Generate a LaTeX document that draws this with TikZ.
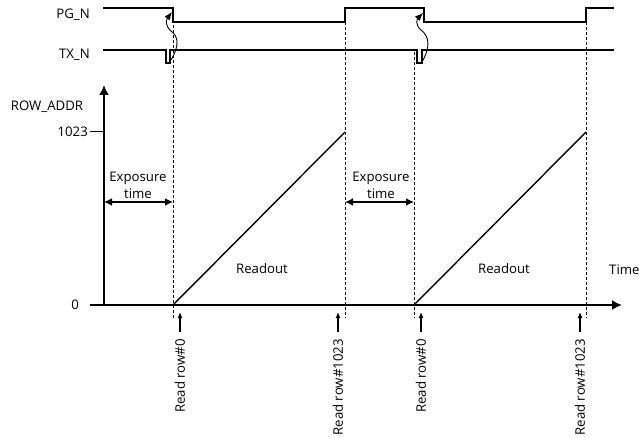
\documentclass[tikz,border=0pt]{standalone}
\usepackage{fontspec}
\setmainfont{Open Sans}
\usetikzlibrary{arrows.meta}
\begin{document}
\begin{tikzpicture}[x=1pt,y=-1pt,
  lbl/.style={font=\fontsize{13.2}{15}\selectfont, inner sep=0pt},
  sig/.style={line width=1.4pt},
  axisline/.style={line width=1.9pt, -{Latex[length=10pt,width=10pt]}},
  guide/.style={line width=0.8pt, dash pattern=on 3pt off 2pt},
  ramp/.style={line width=1.4pt},
  dim/.style={line width=1.6pt, {Latex[length=8pt,width=8pt]}-{Latex[length=8pt,width=8pt]}},
  ptr/.style={line width=1.2pt, -{Latex[length=6pt,width=5pt]}},
  wave/.style={line width=0.9pt, -{Latex[length=8pt,width=6.5pt]}},
]
\useasboundingbox (0,0) rectangle (639,438);

% signal labels
\node[lbl, anchor=east] (pgl) at (90,15) {PG\_N};
\node[lbl, anchor=east] (txl) at (90,55) {TX\_N};

% waveforms
\draw[sig] (103,8) -- (173,8) -- (173,22) -- (345,22) -- (345,8) -- (424,8) -- (424,22) -- (586,22) -- (586,8) -- (614,8);
\draw[sig] (103,50) -- (166,50) -- (166,63) -- (170,63) -- (170,50) -- (417,50) -- (417,63) -- (422,63) -- (422,50) -- (614,50);

% wavy causal arrows
\coordinate (w1s) at (171,60);
\coordinate (w1e) at (172,12);
\coordinate (w2s) at (422,62);
\coordinate (w2e) at (423,13);
\draw[wave] (w1s) .. controls (180,45) and (178,36) .. (171,31) .. controls (165,26) and (166,20) .. (w1e);
\draw[wave] (w2s) .. controls (431,46) and (429,36) .. (421,30) .. controls (415,25) and (417,19) .. (w2e);

% guides
\coordinate (g1t) at (173,20); \coordinate (g1b) at (173,318);
\coordinate (g2t) at (345,22); \coordinate (g2b) at (345,318);
\coordinate (g3t) at (414,52); \coordinate (g3b) at (414,318);
\coordinate (g4t) at (586,22); \coordinate (g4b) at (586,318);
\draw[guide] (g1t) -- (g1b);
\draw[guide] (g2t) -- (g2b);
\draw[guide] (g3t) -- (g3b);
\draw[guide] (g4t) -- (g4b);

% axes
\coordinate (o) at (104,305);
\coordinate (xl) at (90,305);
\coordinate (xe) at (622,305);
\coordinate (ye) at (104,85);
\draw[axisline] (o) -- (ye);
\draw[axisline] (xl) -- (xe);
\coordinate (t1) at (90,132);
\coordinate (t1b) at (104,132);
\draw[line width=1pt] (t1) -- (t1b);
\node[lbl, anchor=east] (n1023) at (88,132) {1023};
\node[lbl, anchor=east] (n0) at (79,305) {0};
\node[lbl] (rowaddr) at (47,107) {ROW\_ADDR};
\node[lbl, anchor=west] (time) at (609,270) {Time};

% ramps
\coordinate (r1s) at (173,305); \coordinate (r1e) at (345,132);
\coordinate (r2s) at (414,305); \coordinate (r2e) at (586,132);
\draw[ramp] (r1s) -- (r1e);
\draw[ramp] (r2s) -- (r2e);
\node[lbl] (ro1) at (262,269) {Readout};
\node[lbl] (ro2) at (504,269) {Readout};

% exposure
\coordinate (e1a) at (104,202); \coordinate (e1b) at (173,202);
\coordinate (e2a) at (345,202); \coordinate (e2b) at (414,202);
\draw[dim] (e1a) -- (e1b);
\draw[dim] (e2a) -- (e2b);
\node[lbl] (ex1) at (138,178) {Exposure};
\node[lbl] (tm1) at (138,194) {time};
\node[lbl] (ex2) at (381,178) {Exposure};
\node[lbl] (tm2) at (381,194) {time};

% read markers
\foreach \i/\x/\t in {a/180/Read row\#0, b/338/Read row\#1023, c/421/Read row\#0, d/580/Read row\#1023}{
  \coordinate (p\i s) at (\x,332);
  \coordinate (p\i e) at (\x,312);
  \draw[ptr] (p\i s) -- (p\i e);
  \node[lbl, rotate=90, anchor=east] (rl\i) at (\x,339) {\t};
}
\end{tikzpicture}
\end{document}
